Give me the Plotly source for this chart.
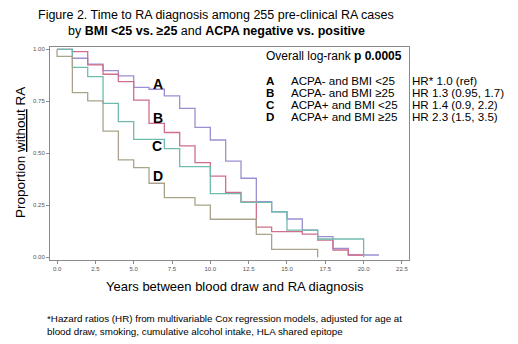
import plotly.graph_objects as go

# ---- data ----
times_A = [0, 1, 2, 3, 4, 5, 6, 7, 8, 9, 10, 11, 12, 13, 14, 15, 16, 17, 18, 19, 21]
surv_A = [1.0, 0.957, 0.929, 0.897, 0.872, 0.817, 0.808, 0.776, 0.716, 0.625, 0.564,
          0.462, 0.38, 0.268, 0.219, 0.184, 0.131, 0.099, 0.043, 0.011, 0.011]

times_B = [0, 1, 2, 3, 4, 5, 6, 7, 8, 9, 10, 11, 12, 13, 14, 16, 17, 18, 19, 20]
surv_B = [1.0, 0.989, 0.925, 0.88, 0.845, 0.756, 0.644, 0.6, 0.536, 0.455, 0.39,
          0.312, 0.266, 0.145, 0.123, 0.111, 0.083, 0.035, 0.011, 0.011]

times_C = [0, 1, 2, 3, 4, 5, 7, 8, 10, 12, 14, 15, 17, 20]
surv_C = [1.0, 0.913, 0.869, 0.74, 0.652, 0.567, 0.522, 0.436, 0.306, 0.264, 0.219,
          0.131, 0.088, 0.0]

times_D = [0, 0, 1, 2, 3, 4, 5, 6, 7, 9, 10, 13, 14, 17]
surv_D = [1.0, 0.966, 0.792, 0.752, 0.607, 0.468, 0.431, 0.356, 0.287, 0.251, 0.183,
          0.11, 0.038, 0.0]

group_labels = ["A", "B", "C", "D"]
group_names = ["ACPA- and BMI &lt;25", "ACPA- and BMI ≥25", "ACPA+ and BMI &lt;25", "ACPA+ and BMI ≥25"]
hr_texts = ["HR* 1.0 (ref)", "HR 1.3 (0.95, 1.7)", "HR 1.4 (0.9, 2.2)", "HR 2.3 (1.5, 3.5)"]
label_pos_t = [6.6, 6.6, 6.55, 6.6]
label_pos_s = [0.835, 0.67, 0.535, 0.39]

x_ticks = [0, 2.5, 5, 7.5, 10, 12.5, 15, 17.5, 20, 22.5]
y_ticks = [0, 0.25, 0.5, 0.75, 1.0]

colors = ["#9c8ed2", "#cf6f8b", "#6fbcae", "#aaa38c"]

W, H = 518, 344
L, R, T, B = 50, 409, 47, 260


def px(xp):
    return (xp - L) / (R - L)


def py(yp):
    return (B - yp) / (B - T)


fig = go.Figure()
for t, s, c in [(times_A, surv_A, colors[0]), (times_B, surv_B, colors[1]),
                (times_C, surv_C, colors[2]), (times_D, surv_D, colors[3])]:
    fig.add_trace(go.Scatter(x=t, y=s, mode="lines", line=dict(color=c, width=1.3, shape="hv"),
                             showlegend=False, hoverinfo="skip"))

ann = []
font = "Liberation Sans, Arial, sans-serif"
# title
ann.append(dict(text="Figure 2. Time to RA diagnosis among 255 pre-clinical RA cases",
                x=px(216), y=py(15), xref="paper", yref="paper", showarrow=False,
                font=dict(size=12.5, color="black", family=font), xanchor="center", yanchor="middle"))
ann.append(dict(text="by <b>BMI &lt;25 vs. ≥25</b> and <b>ACPA negative vs. positive</b>",
                x=px(216), y=py(31), xref="paper", yref="paper", showarrow=False,
                font=dict(size=12.5, color="black", family=font), xanchor="center", yanchor="middle"))
# curve labels
for lab, tx, sy in zip(group_labels, label_pos_t, label_pos_s):
    ann.append(dict(text=f"<b>{lab}</b>", x=tx, y=sy, xref="x", yref="y", showarrow=False,
                    font=dict(size=14, color="black", family=font), xanchor="center", yanchor="middle"))
# legend block
LF = 11.6
ann.append(dict(text="Overall log-rank <b>p 0.0005</b>", x=px(265), y=py(56), xref="paper", yref="paper",
                showarrow=False, font=dict(size=12, color="black", family=font), xanchor="left",
                yanchor="middle", borderpad=0))
rows_y = [80, 92.1, 104.2, 116.3]
for lab, nm, hr, ry in zip(group_labels, group_names, hr_texts, rows_y):
    ann.append(dict(text=f"<b>{lab}</b>", x=px(265), y=py(ry), xref="paper", yref="paper", showarrow=False,
                    font=dict(size=LF, color="black", family=font), xanchor="left", yanchor="middle",
                    borderpad=0))
    ann.append(dict(text=nm, x=px(290), y=py(ry), xref="paper", yref="paper", showarrow=False,
                    font=dict(size=LF, color="black", family=font), xanchor="left", yanchor="middle",
                    borderpad=0))
    ann.append(dict(text=hr, x=px(411.5), y=py(ry), xref="paper", yref="paper", showarrow=False,
                    font=dict(size=LF, color="black", family=font), xanchor="left", yanchor="middle",
                    borderpad=0))
# axis titles
ann.append(dict(text="Proportion <u>without</u> RA", x=px(20), y=py(153), xref="paper", yref="paper",
                showarrow=False, textangle=-90,
                font=dict(size=13.5, color="black", family=font), xanchor="center", yanchor="middle"))
ann.append(dict(text="Years between blood draw and RA diagnosis", x=px(235), y=py(286), xref="paper",
                yref="paper", showarrow=False,
                font=dict(size=13, color="black", family=font), xanchor="center", yanchor="middle"))
# footnote
ann.append(dict(text="*Hazard ratios (HR) from multivariable Cox regression models, adjusted for age at"
                     "<br>blood draw, smoking, cumulative alcohol intake, HLA shared epitope",
                x=px(45), y=py(311), xref="paper", yref="paper", showarrow=False, align="left",
                font=dict(size=9.8, color="black", family=font), xanchor="left", yanchor="top"))

fig.update_layout(
    width=W, height=H,
    margin=dict(l=L, r=W - R, t=T, b=H - B),
    paper_bgcolor="white", plot_bgcolor="white",
    annotations=ann,
    xaxis=dict(range=[-0.46, 22.96], tickvals=x_ticks, ticktext=[f"{v:.1f}" for v in x_ticks],
               showgrid=False, zeroline=False, showline=True, linecolor="#8a8a8a", linewidth=1,
               mirror=True, ticks="outside", ticklen=3, tickcolor="#8a8a8a",
               tickfont=dict(size=6, color="#555", family=font)),
    yaxis=dict(range=[-0.013, 1.011], tickvals=y_ticks, ticktext=[f"{v:.2f}" for v in y_ticks],
               showgrid=False, zeroline=False, showline=True, linecolor="#8a8a8a", linewidth=1,
               mirror=True, ticks="outside", ticklen=3, tickcolor="#8a8a8a",
               tickfont=dict(size=6, color="#555", family=font)),
)

fig.write_html("out.html")
